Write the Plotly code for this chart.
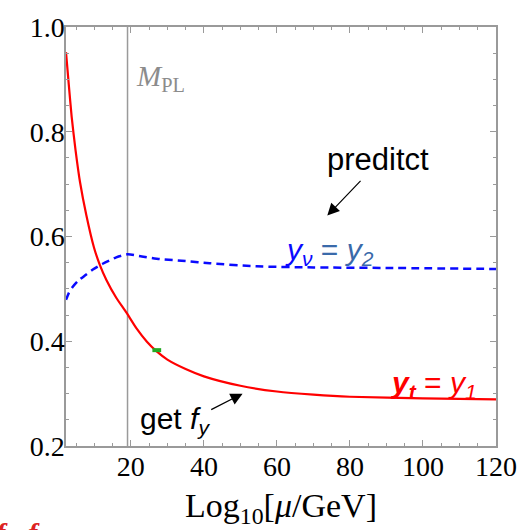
import plotly.graph_objects as go

# --- data ---
x_yt = [2.24, 3.0, 3.8, 4.85, 6.1, 7.8, 9.9, 11.5, 13.3, 16, 18.75, 21.5, 24.4, 27, 30, 35, 40, 50, 60, 70, 80, 100, 120]
y_yt = [0.952, 0.890, 0.828, 0.765, 0.703, 0.641, 0.579, 0.546, 0.517, 0.483, 0.455, 0.425, 0.399, 0.381, 0.365, 0.347,
        0.333, 0.315, 0.304, 0.298, 0.294, 0.291, 0.289]

x_ynu = [2.24, 3.0, 4.1, 5.5, 7.5, 9.6, 12.3, 16, 19.1, 23, 27.9, 35, 41.6, 54.4, 70, 90, 120]
y_ynu = [0.479, 0.492, 0.504, 0.515, 0.526, 0.537, 0.548, 0.560, 0.566, 0.562, 0.557, 0.553, 0.549, 0.543, 0.541,
         0.540, 0.538]

x_green = [25.9, 28.3]
y_green = [0.383, 0.383]

M_PL = 19.09
x_range = [2.24, 120]
y_range = [0.2, 1.0]
x_ticks = [20, 40, 60, 80, 100, 120]
y_ticks = [0.2, 0.4, 0.6, 0.8, 1.0]

GRAY = "#9a9a9a"
SERIF = "Liberation Serif"
SANS = "Liberation Sans"

fig = go.Figure()
fig.add_trace(go.Scatter(x=x_ynu, y=y_ynu, mode="lines",
                         line=dict(color="#0a0aff", width=2.5, dash="8px,5px", shape="spline", smoothing=0.6),
                         showlegend=False))
fig.add_trace(go.Scatter(x=x_yt, y=y_yt, mode="lines",
                         line=dict(color="#ff0000", width=2.2, shape="spline", smoothing=0.6), showlegend=False))
fig.add_trace(go.Scatter(x=x_green, y=y_green, mode="lines", line=dict(color="#22aa22", width=4), showlegend=False))

fig.add_shape(type="line", x0=M_PL, x1=M_PL, y0=0, y1=1, xref="x", yref="paper",
              line=dict(color=GRAY, width=1.5), layer="below")

axis_common = dict(showgrid=False, zeroline=False, showline=True, linecolor=GRAY, linewidth=1.5, mirror="ticks",
                   ticks="inside", ticklen=6, tickwidth=1, tickcolor=GRAY,
                   tickfont=dict(family=SERIF, size=28, color="black"))

fig.update_xaxes(range=x_range, tickvals=x_ticks,
                 minor=dict(dtick=5, tick0=0, ticks="inside", ticklen=3.5, tickcolor=GRAY, tickwidth=1),
                 title=dict(text="Log<sub>10</sub>[<i>μ</i>/GeV]", font=dict(family=SERIF, size=34, color="black"),
                            standoff=12),
                 ticklabelstandoff=-5,
                 **axis_common)
fig.update_yaxes(range=y_range, tickvals=y_ticks, tickformat=".1f",
                 minor=dict(dtick=0.05, tick0=0, ticks="inside", ticklen=3.5, tickcolor=GRAY, tickwidth=1),
                 ticklabelstandoff=-6,
                 **axis_common)

anns = [
    dict(x=28.1, y=0.902, text="<i>M</i><sub>PL</sub>", font=dict(family=SERIF, size=29, color="#8c8c8c"),
         showarrow=False),
    dict(x=87.6, y=0.747, text="preditct", font=dict(family=SANS, size=31, color="black"), showarrow=False),
    dict(x=74.5, y=0.572, text="<i>y<sub>ν</sub></i><span style='color:#3a6aaa'> = <i>y<sub>2</sub></i></span>",
         font=dict(family=SANS, size=30, color="#0a0aff"), showarrow=False),
    dict(x=103, y=0.318, text="<b><i>y<sub>t</sub></i></b> = <i>y<sub>1</sub></i>",
         font=dict(family=SANS, size=30, color="#ff0000"), showarrow=False),
    dict(x=32, y=0.249, text="get <i>f<sub>y</sub></i>", font=dict(family=SANS, size=30, color="black"),
         showarrow=False),
    # arrows
    dict(x=73.8, y=0.640, ax=83.3, ay=0.709, xref="x", yref="y", axref="x", ayref="y", text="", showarrow=True,
         arrowhead=2, arrowsize=2.0, arrowwidth=1.2, arrowcolor="black"),
    dict(x=50.6, y=0.300, ax=41.6, ay=0.268, xref="x", yref="y", axref="x", ayref="y", text="", showarrow=True,
         arrowhead=2, arrowsize=2.0, arrowwidth=1.2, arrowcolor="black"),
    # clipped red text at the bottom-left
    dict(x=0, y=-0.165, xref="paper", yref="paper", xanchor="left", yanchor="top", xshift=-72,
         text="<b><i>f<sub>y</sub>  f</i></b>", font=dict(family=SERIF, size=28, color="#dd2222"), showarrow=False),
]
fig.update_layout(annotations=anns, width=531, height=530, margin=dict(l=66, r=35, t=18, b=83),
                  plot_bgcolor="white", paper_bgcolor="white")

fig.write_html("out.html")
